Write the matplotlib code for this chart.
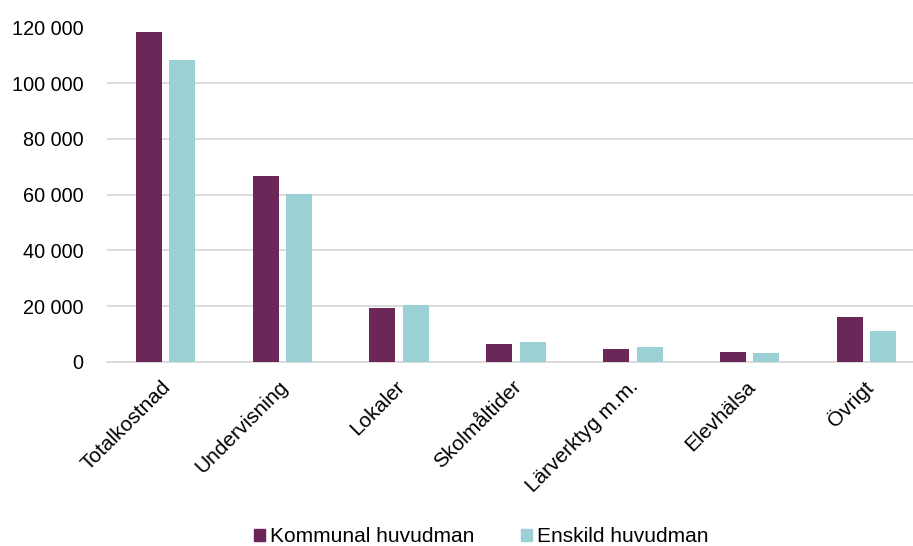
import matplotlib
matplotlib.use("Agg")
import matplotlib.pyplot as plt
import matplotlib.transforms as mtransforms
import numpy as np
from matplotlib.patches import Patch

categories = ["Totalkostnad", "Undervisning", "Lokaler", "Skolmåltider",
              "Lärverktyg m.m.", "Elevhälsa", "Övrigt"]
kommunal = [118500, 66700, 19400, 6250, 4700, 3600, 16050]
enskild = [108300, 60200, 20300, 7000, 5200, 3000, 11000]
series_names = ["Kommunal huvudman", "Enskild huvudman"]
yticks = [0, 20000, 40000, 60000, 80000, 100000, 120000]
ytick_labels = ["0", "20 000", "40 000", "60 000", "80 000", "100 000", "120 000"]

c_k = "#6B2758"
c_e = "#9BD0D5"

plt.rcParams['font.family'] = ['Liberation Sans', 'DejaVu Sans']

W, H = 913, 546
fig = plt.figure(figsize=(W / 100, H / 100), dpi=100)
left, right = 107, 925
top, bottom = 27.5, 361.7
ax = fig.add_axes([left / W, 1 - bottom / H, (right - left) / W, (bottom - top) / H])

x = np.arange(len(categories))
w = 0.2226
gap = 0.0625
ax.bar(x - (w + gap) / 2, kommunal, w, color=c_k, zorder=3)
ax.bar(x + (w + gap) / 2, enskild, w, color=c_e, zorder=3)

ax.set_xlim(-0.5, len(categories) - 0.5)
ax.set_ylim(0, 120000)
ax.set_yticks(yticks)
ax.set_yticklabels(ytick_labels, fontsize=14.3)
ax.yaxis.grid(True, color="#d9d9d9", linewidth=1.3, zorder=0)
ax.set_axisbelow(True)
ax.tick_params(axis="both", length=0)
ax.tick_params(axis="y", pad=17)
ax.tick_params(axis="x", pad=11)
for s in ["top", "right", "left"]:
    ax.spines[s].set_visible(False)
ax.spines["bottom"].set_color("#d9d9d9")
ax.spines["bottom"].set_linewidth(1.3)

ax.set_xticks(x)
ax.set_xticklabels(categories, rotation=45, ha="right", va="top",
                   rotation_mode="anchor", fontsize=15)
offset = mtransforms.ScaledTranslation(-4 / 100, 0, fig.dpi_scale_trans)
for lbl in ax.get_xticklabels():
    lbl.set_transform(lbl.get_transform() + offset)

handles = [Patch(color=c_k), Patch(color=c_e)]
fig.legend(handles, series_names, loc="center", bbox_to_anchor=(0.527, 1 - 537 / H),
           ncol=2, frameon=False, fontsize=15, handlelength=0.55, handleheight=0.55,
           handletextpad=0.25, columnspacing=2.2)

fig.savefig("out.png", dpi=100)
